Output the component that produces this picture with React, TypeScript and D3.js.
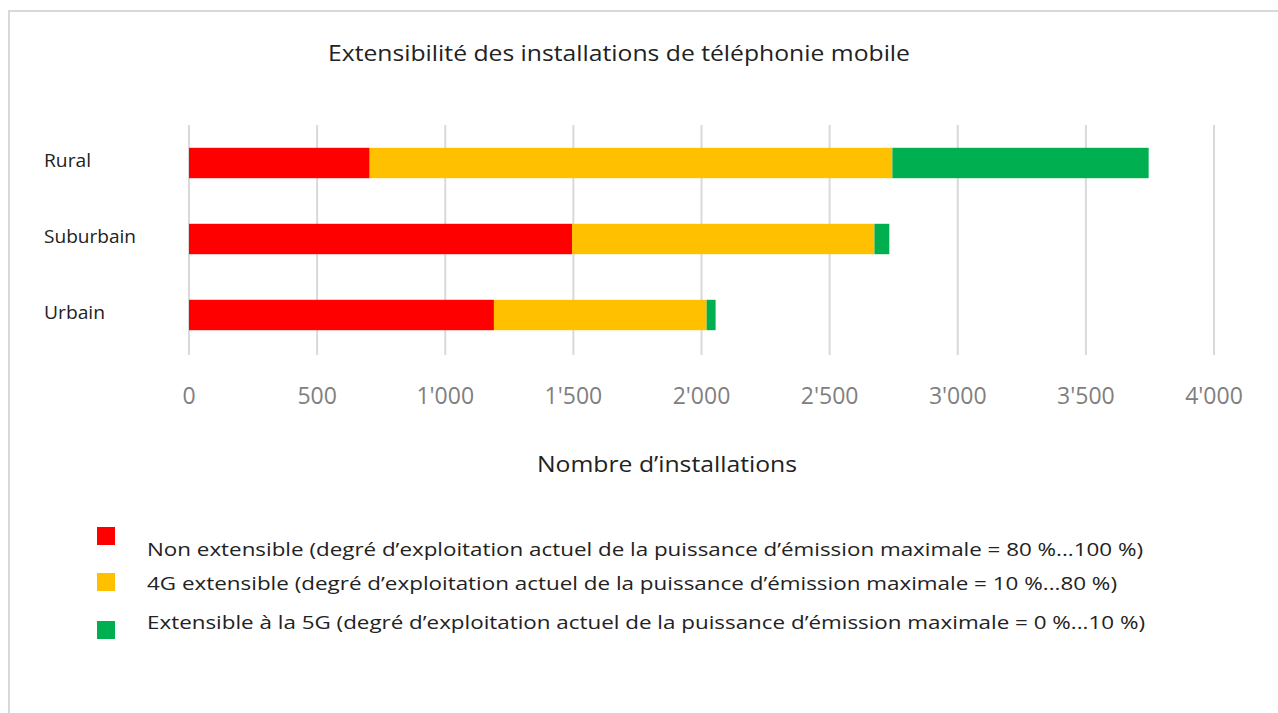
import React from "react";
import * as d3 from "d3";

const categories = ["Rural", "Suburbain", "Urbain"];
const nonExtensible = [705, 1495, 1190];
const extensible4G = [2040, 1180, 830];
const extensible5G = [1000, 58, 35];
const xTicks = [0, 500, 1000, 1500, 2000, 2500, 3000, 3500, 4000];
const seriesNames = [
  "Non extensible (degré d’exploitation actuel de la puissance d’émission maximale = 80 %...100 %)",
  "4G extensible (degré d’exploitation actuel de la puissance d’émission maximale = 10 %...80 %)",
  "Extensible à la 5G (degré d’exploitation actuel de la puissance d’émission maximale = 0 %...10 %)",
];
const colors = ["#FF0000", "#FFC000", "#00B050"];
const title = "Extensibilité des installations de téléphonie mobile";
const xTitle = "Nombre d’installations";

const W = 1278;
const H = 713;
const FONT = "'Open Sans', 'Noto Sans', sans-serif";

export default function App() {
  const x = d3.scaleLinear().domain([0, 4000]).range([189, 1214]);
  const y = d3.scaleBand().domain(categories).range([125, 353]).paddingInner(0.6).paddingOuter(0.3);

  const rows = categories.map((c, i) => ({
    cat: c,
    s0: nonExtensible[i],
    s1: extensible4G[i],
    s2: extensible5G[i],
  }));
  const stack = d3.stack<any>().keys(["s0", "s1", "s2"]);
  const layers = stack(rows);

  const fmt = (v: number) => d3.format(",")(v).replace(/,/g, "'");

  const legendSquares = [527, 573, 621];
  const legendText = [556, 590, 629];
  const legendWidths = [996, 970, 998];
  const catWidths = [47, 92, 61];

  return (
    <div style={{ position: "absolute", left: 0, top: 0 }}>
      <svg width={W} height={H} style={{ display: "block", background: "#fff" }}>
        <rect x={9} y={11} width={1400} height={800} fill="#fff" stroke="#d9d9d9" strokeWidth={2} />
        <text x={619} y={61} textAnchor="middle" fontFamily={FONT} fontSize={21} fill="#222" textLength={582} lengthAdjust="spacingAndGlyphs">
          {title}
        </text>
        {xTicks.map((t) => (
          <line key={"g" + t} x1={x(t)} x2={x(t)} y1={125} y2={355} stroke="#d9d9d9" strokeWidth={2} />
        ))}
        {layers.map((layer, li) =>
          layer.map((d, i) => (
            <rect
              key={li + "-" + i}
              x={x(d[0])}
              y={y(categories[i])}
              width={x(d[1]) - x(d[0])}
              height={y.bandwidth()}
              fill={colors[li]}
            />
          ))
        )}
        {categories.map((c, i) => (
          <text key={c} x={44} y={(y(c) as number) + y.bandwidth() / 2 + 4} fontFamily={FONT} fontSize={18} fill="#222" textLength={catWidths[i]} lengthAdjust="spacingAndGlyphs">
            {c}
          </text>
        ))}
        {xTicks.map((t) => (
          <text key={"t" + t} x={x(t)} y={404} textAnchor="middle" fontFamily={FONT} fontSize={23} fill="#808080">
            {fmt(t)}
          </text>
        ))}
        <text x={667} y={472} textAnchor="middle" fontFamily={FONT} fontSize={21} fill="#222" textLength={260} lengthAdjust="spacingAndGlyphs">
          {xTitle}
        </text>
        {seriesNames.map((s, i) => (
          <g key={s}>
            <rect x={97} y={legendSquares[i]} width={18} height={18} fill={colors[i]} />
            <text x={147} y={legendText[i]} fontFamily={FONT} fontSize={19} fill="#222" textLength={legendWidths[i]} lengthAdjust="spacingAndGlyphs">
              {s}
            </text>
          </g>
        ))}
      </svg>
    </div>
  );
}
